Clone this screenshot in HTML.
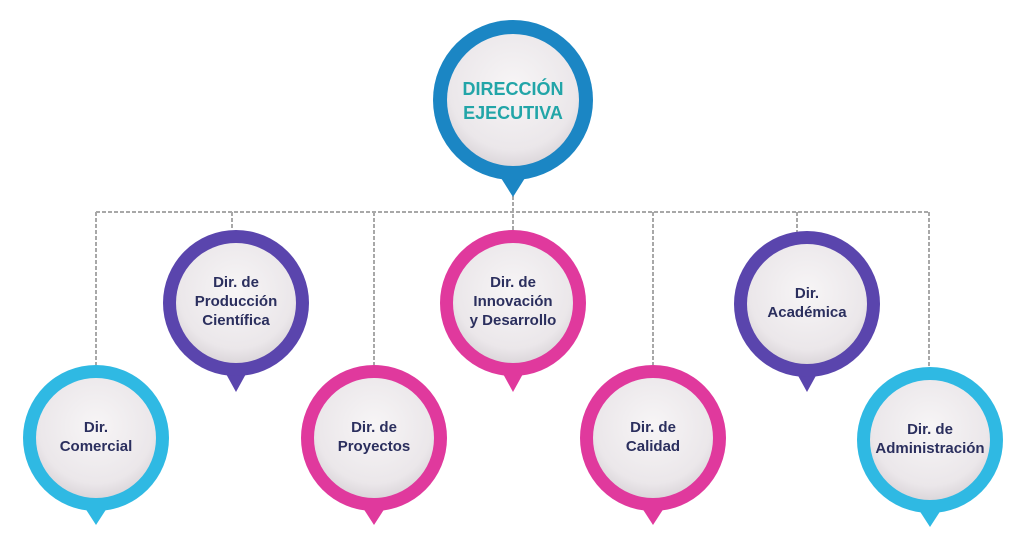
<!DOCTYPE html>
<html><head><meta charset="utf-8"><style>
html,body{margin:0;padding:0;background:#fff;}
svg{display:block;}
text{font-family:"Liberation Sans",sans-serif;font-weight:bold;text-anchor:middle;}
</style></head><body>
<svg width="1024" height="539" viewBox="0 0 1024 539" xmlns="http://www.w3.org/2000/svg">
<defs>
<radialGradient id="wg" cx="50%" cy="40%" r="60%">
<stop offset="0" stop-color="#f7f5f6"/><stop offset="0.8" stop-color="#ebe7ea"/><stop offset="1" stop-color="#dcd7db"/>
</radialGradient>
</defs>
<g stroke="#a8a8a8" stroke-width="2" stroke-dasharray="4,2" fill="none">
<path d="M96 212 H929"/>
<path d="M513 190 V232"/>
<path d="M96 212 V365"/>
<path d="M232 212 V230"/>
<path d="M374 212 V365"/>
<path d="M653 212 V365"/>
<path d="M797 212 V232"/>
<path d="M929 212 V367"/>
</g>
<g id="nodes">
<!-- top -->
<path d="M501 178 L513 197 L525 178 Z" fill="#1b86c4"/>
<circle cx="513" cy="100" r="80" fill="#1b86c4"/>
<circle cx="513" cy="100" r="66" fill="url(#wg)"/>
<text x="513" y="95" font-size="18" fill="#22a5a8">DIRECCIÓN</text>
<text x="513" y="119" font-size="18" fill="#22a5a8">EJECUTIVA</text>

<path d="M85 508 L96 525 L107 508 Z" fill="#2fb9e3"/>
<circle cx="96" cy="438" r="73" fill="#2fb9e3"/>
<circle cx="96" cy="438" r="60" fill="url(#wg)"/>
<text x="96" y="432" font-size="15" fill="#2b2f5e">Dir.</text>
<text x="96" y="451" font-size="15" fill="#2b2f5e">Comercial</text>

<path d="M225 372 L236 392 L247 372 Z" fill="#5a45ad"/>
<circle cx="236" cy="303" r="73" fill="#5a45ad"/>
<circle cx="236" cy="303" r="60" fill="url(#wg)"/>
<text x="236" y="287" font-size="15" fill="#2b2f5e">Dir. de</text>
<text x="236" y="306" font-size="15" fill="#2b2f5e">Producción</text>
<text x="236" y="325" font-size="15" fill="#2b2f5e">Científica</text>

<path d="M363 508 L374 525 L385 508 Z" fill="#e0399d"/>
<circle cx="374" cy="438" r="73" fill="#e0399d"/>
<circle cx="374" cy="438" r="60" fill="url(#wg)"/>
<text x="374" y="432" font-size="15" fill="#2b2f5e">Dir. de</text>
<text x="374" y="451" font-size="15" fill="#2b2f5e">Proyectos</text>

<path d="M502 372 L513 392 L524 372 Z" fill="#e0399d"/>
<circle cx="513" cy="303" r="73" fill="#e0399d"/>
<circle cx="513" cy="303" r="60" fill="url(#wg)"/>
<text x="513" y="287" font-size="15" fill="#2b2f5e">Dir. de</text>
<text x="513" y="306" font-size="15" fill="#2b2f5e">Innovación</text>
<text x="513" y="325" font-size="15" fill="#2b2f5e">y Desarrollo</text>

<path d="M642 508 L653 525 L664 508 Z" fill="#e0399d"/>
<circle cx="653" cy="438" r="73" fill="#e0399d"/>
<circle cx="653" cy="438" r="60" fill="url(#wg)"/>
<text x="653" y="432" font-size="15" fill="#2b2f5e">Dir. de</text>
<text x="653" y="451" font-size="15" fill="#2b2f5e">Calidad</text>

<path d="M796 372 L807 392 L818 372 Z" fill="#5a45ad"/>
<circle cx="807" cy="304" r="73" fill="#5a45ad"/>
<circle cx="807" cy="304" r="60" fill="url(#wg)"/>
<text x="807" y="298" font-size="15" fill="#2b2f5e">Dir.</text>
<text x="807" y="317" font-size="15" fill="#2b2f5e">Académica</text>

<path d="M919 510 L930 527 L941 510 Z" fill="#2fb9e3"/>
<circle cx="930" cy="440" r="73" fill="#2fb9e3"/>
<circle cx="930" cy="440" r="60" fill="url(#wg)"/>
<text x="930" y="434" font-size="15" fill="#2b2f5e">Dir. de</text>
<text x="930" y="453" font-size="15" fill="#2b2f5e">Administración</text>
</g>
</svg>
</body></html>
